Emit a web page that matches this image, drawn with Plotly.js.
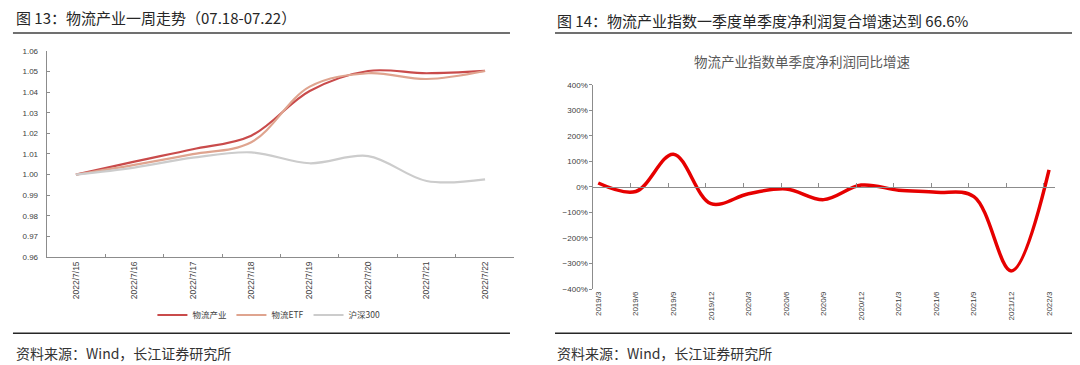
<!DOCTYPE html>
<html>
<head>
<meta charset="utf-8">
<script src="https://cdn.plot.ly/plotly-3.0.1.min.js"></script>
<style>html,body{margin:0;padding:0;background:#fff;}#chart{width:1080px;height:365px;}</style>
</head>
<body>
<div id="chart"></div>
<script>
// ---- Left chart data (Fig 13) ----
const dates = ['2022/7/15','2022/7/16','2022/7/17','2022/7/18','2022/7/19','2022/7/20','2022/7/21','2022/7/22'];
const wuliuIndustry = [1.000, 1.0063, 1.0123, 1.0189, 1.0406, 1.0503, 1.0492, 1.0503];
const wuliuETF      = [1.000, 1.0047, 1.0099, 1.0157, 1.0427, 1.0492, 1.0464, 1.0503];
const hs300         = [1.000, 1.0034, 1.0082, 1.0108, 1.0055, 1.0090, 0.9969, 0.9977];
const leftSeriesNames = ['物流产业', '物流ETF', '沪深300'];

// ---- Right chart data (Fig 14) ----
const quarters = ['2019/3','2019/6','2019/9','2019/12','2020/3','2020/6','2020/9','2020/12','2021/3','2021/6','2021/9','2021/12','2022/3'];
const profitGrowth = [15, -18, 128, -66, -27, -8, -50, 7, -13, -21, -38, -329, 66.6];

const LAT = "'Liberation Sans', 'Noto Sans CJK SC', sans-serif";
const CJK = "'Noto Sans CJK SC', 'Liberation Sans', sans-serif";

const traces = [
  {x: dates, y: wuliuIndustry, name: leftSeriesNames[0], type: 'scatter', mode: 'lines',
   line: {color: '#C94B4B', width: 2.2, shape: 'spline', smoothing: 1}, xaxis: 'x', yaxis: 'y'},
  {x: dates, y: wuliuETF, name: leftSeriesNames[1], type: 'scatter', mode: 'lines',
   line: {color: '#DFA48F', width: 2.2, shape: 'spline', smoothing: 1}, xaxis: 'x', yaxis: 'y'},
  {x: dates, y: hs300, name: leftSeriesNames[2], type: 'scatter', mode: 'lines',
   line: {color: '#CCCCCC', width: 2.2, shape: 'spline', smoothing: 1}, xaxis: 'x', yaxis: 'y'},
  {x: quarters, y: profitGrowth, name: '物流产业指数单季度净利润同比增速', type: 'scatter', mode: 'lines',
   line: {color: '#E60000', width: 3.5, shape: 'spline', smoothing: 1}, xaxis: 'x2', yaxis: 'y2', showlegend: false},
  {x: [], y: [], type: 'scatter', mode: 'lines', xaxis: 'x3', yaxis: 'y2', showlegend: false, hoverinfo: 'skip'}
];

const ax = (o) => Object.assign({showgrid: false, zeroline: false, fixedrange: true}, o);

const layout = {
  width: 1080, height: 365,
  margin: {l: 0, r: 0, t: 0, b: 0},
  paper_bgcolor: '#ffffff', plot_bgcolor: 'rgba(0,0,0,0)',
  font: {family: LAT, color: '#404040', size: 8},
  showlegend: true,
  legend: {orientation: 'h', x: 0.249, xanchor: 'center', y: 0.137, yanchor: 'middle',
           font: {family: CJK, size: 8.5, color: '#404040'}, bgcolor: 'rgba(0,0,0,0)',
           itemwidth: 30, tracegroupgap: 0},
  xaxis: ax({type: 'category', domain: [0.0432, 0.4762], anchor: 'y', range: [-0.5, 7.5],
             showline: true, linecolor: '#8C8C8C', linewidth: 1,
             ticks: 'inside', ticklen: 3, tickcolor: '#8C8C8C', tickson: 'boundaries',
             tickangle: -90, tickfont: {family: LAT, size: 8.5, color: '#404040'}}),
  yaxis: ax({domain: [0.2959, 0.8603], anchor: 'x', range: [0.96, 1.06], dtick: 0.01, tick0: 0.96,
             tickformat: '.2f', showline: true, linecolor: '#8C8C8C', linewidth: 1,
             ticks: 'inside', ticklen: 3, tickcolor: '#8C8C8C',
             ticklabelstandoff: 6, tickfont: {family: LAT, size: 8, color: '#404040'}}),
  xaxis2: ax({type: 'category', domain: [0.5494, 0.9769], anchor: 'y2', range: [-0.13, 12.16],
              showline: false, ticks: '', tickangle: -90,
              tickfont: {family: LAT, size: 8, color: '#404040'}}),
  xaxis3: ax({type: 'linear', overlaying: 'x2', anchor: 'free', position: 0.4881, range: [-0.13, 12.16],
              showline: true, linecolor: '#8C8C8C', linewidth: 1,
              ticks: 'inside', ticklen: 4, tickcolor: '#8C8C8C', tick0: -0.135, dtick: 1,
              showticklabels: false}),
  yaxis2: ax({domain: [0.2082, 0.7679], anchor: 'x2', range: [-400, 400], dtick: 100, tick0: -400,
              ticksuffix: '%', showline: true, linecolor: '#8C8C8C', linewidth: 1,
              ticks: 'outside', ticklen: 3, tickcolor: '#8C8C8C',
              tickfont: {family: LAT, size: 8, color: '#404040'}}),
  annotations: [
    {text: '图 13：物流产业一周走势（07.18-07.22）', xref: 'paper', yref: 'paper', x: 0.0125, y: 0.9507,
     xanchor: 'left', yanchor: 'middle', showarrow: false, font: {family: CJK, size: 15, color: '#262626'}},
    {text: '图 14：物流产业指数一季度单季度净利润复合增速达到 66.6%', xref: 'paper', yref: 'paper', x: 0.5139, y: 0.9452,
     xanchor: 'left', yanchor: 'middle', showarrow: false, font: {family: CJK, size: 15, color: '#262626'}},
    {text: '物流产业指数单季度净利润同比增速', xref: 'paper', yref: 'paper', x: 0.7426, y: 0.8329,
     xanchor: 'center', yanchor: 'middle', showarrow: false, font: {family: CJK, size: 13.5, color: '#595959'}},
    {text: '资料来源：Wind，长江证券研究所', xref: 'paper', yref: 'paper', x: 0.0125, y: 0.0329,
     xanchor: 'left', yanchor: 'middle', showarrow: false, font: {family: CJK, size: 14, color: '#333333'}},
    {text: '资料来源：Wind，长江证券研究所', xref: 'paper', yref: 'paper', x: 0.5139, y: 0.0329,
     xanchor: 'left', yanchor: 'middle', showarrow: false, font: {family: CJK, size: 14, color: '#333333'}}
  ],
  shapes: [
    {type: 'line', xref: 'paper', yref: 'paper', x0: 0.012, x1: 0.4722, y0: 0.9096, y1: 0.9096, line: {color: '#404040', width: 1.5}},
    {type: 'line', xref: 'paper', yref: 'paper', x0: 0.5139, x1: 0.9926, y0: 0.9096, y1: 0.9096, line: {color: '#404040', width: 1.5}},
    {type: 'line', xref: 'paper', yref: 'paper', x0: 0.012, x1: 0.4722, y0: 0.0868, y1: 0.0868, line: {color: '#262626', width: 1.5}},
    {type: 'line', xref: 'paper', yref: 'paper', x0: 0.5139, x1: 0.9926, y0: 0.0868, y1: 0.0868, line: {color: '#262626', width: 1.5}}
  ]
};

Plotly.newPlot('chart', traces, layout, {staticPlot: true, displayModeBar: false});
</script>
</body>
</html>
